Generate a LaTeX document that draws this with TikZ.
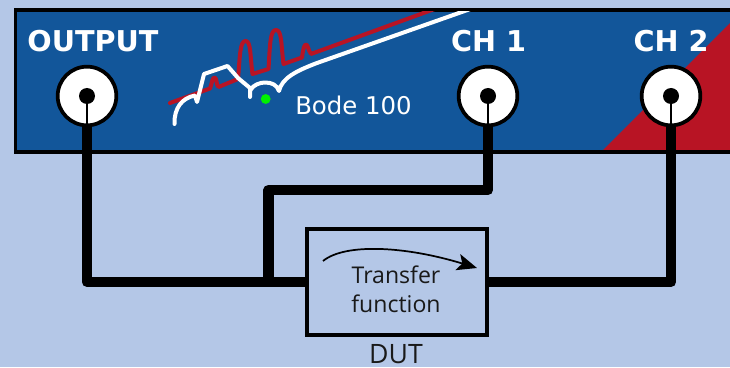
\documentclass[tikz,border=0pt]{standalone}
\usepackage{fontspec}
\setmainfont{DejaVu Sans}
\newfontfamily\opensans{Open Sans}
\usetikzlibrary{arrows.meta}
\definecolor{bgblue}{HTML}{B4C7E7}
\definecolor{panelblue}{HTML}{12569A}
\definecolor{panelred}{HTML}{B81424}
\definecolor{dotgreen}{HTML}{00F000}
\tikzset{
  px/.style={x=0.75pt,y=-0.75pt},
  wire/.style={draw=black,line width=7.8pt,line join=round},
  thinwire/.style={draw=black,line width=1.8pt},
  jack/.style={circle,draw=black,fill=white,line width=2.8pt,minimum size=44pt,inner sep=0pt,outer sep=0pt},
  pin/.style={circle,fill=black,minimum size=12pt,inner sep=0pt},
  chlabel/.style={text=white,font=\bfseries\fontsize{21.5}{25}\selectfont,inner sep=0pt},
  boxtext/.style={font=\opensans\fontsize{17.3}{21.5}\selectfont,align=center,inner sep=0pt,text=black!90},
  trace/.style={line width=3pt,line join=round,line cap=round},
}
\begin{document}
\begin{tikzpicture}[px]
\useasboundingbox (0,0) rectangle (730,367);
\fill[bgblue] (0,0) rectangle (730,367);
% panel
\fill[panelblue] (15,10) rectangle (730,152);
\fill[panelred] (601,152) -- (730,23) -- (730,152) -- cycle;
\draw[black,line width=2.4pt] (730,10) -- (15.5,10) -- (15.5,152) -- (730,152);
% traces
\begin{scope}
\clip (15,11.5) rectangle (730,150);
\draw[trace,panelred] (170,103) -- (210,88.5) .. controls (212,84) and (212,77.5) .. (214.5,77.5)
  .. controls (217,77.5) and (216,85) .. (218.5,87) -- (238,79)
  .. controls (240,55) and (240,41) .. (245.5,41)
  .. controls (251,41) and (250,55) .. (252.5,74) -- (268.5,69)
  .. controls (270,45) and (270,30) .. (276,30)
  .. controls (282,30) and (281,45) .. (283.5,64) -- (302,57.5)
  .. controls (303,50) and (304,44.5) .. (306,44.5)
  .. controls (308,44.5) and (308,50) .. (311,54) -- (440,7);
\draw[trace,white] (174.5,124) .. controls (174,108) and (182,98) .. (195,95.5)
  -- (197,102) -- (204,74) -- (227.5,66) -- (238,78) -- (250,88) -- (250,97);
\draw[trace,white] (250.5,90) .. controls (253,85) and (260,82.5) .. (265,82.5)
  .. controls (272,82.5) and (277,85) .. (279,91)
  .. controls (282,78) and (296,71) .. (317,63) -- (476,7);
\end{scope}
\fill[dotgreen] (265.7,99) circle (3.7pt);
% labels
\node[chlabel] (outlabel) at (93,41) {OUTPUT};
\node[chlabel] (ch1label) at (488.5,41) {CH 1};
\node[chlabel] (ch2label) at (671,41) {CH 2};
\node[text=white,font=\fontsize{18.3}{22}\selectfont,inner sep=0pt] (bode) at (353.5,105.5) {Bode 100};
% jacks
\node[jack] (joutput) at (87,96) {};
\node[jack] (jch1) at (488,96) {};
\node[jack] (jch2) at (671,96) {};
\node[pin] (poutput) at (87,96) {};
\node[pin] (pch1) at (488,96) {};
\node[pin] (pch2) at (671,96) {};
\draw[thinwire] (poutput.center) -- (joutput.south);
\draw[thinwire] (pch1.center) -- (jch1.south);
\draw[thinwire] (pch2.center) -- (jch2.south);
% DUT
\node[draw=black,line width=2.3pt,minimum width=135pt,minimum height=79.5pt,inner sep=0pt,outer sep=0pt,anchor=north west] (dut) at (307,229) {};
\coordinate (dutin) at (dut.west |- 0,282);
\coordinate (dutout) at (dut.east |- 0,282);
\coordinate (junction) at (268.5,282);
\draw[wire] (joutput.south) -- (87,282) -- (dutin);
\draw[wire] (junction) -- (268.5,190) -- (488,190) -- (jch1.south);
\draw[wire] (dutout) -- (671,282) -- (jch2.south);
\node[boxtext] (tf) at (396,289) {Transfer\\function};
\coordinate (arrstart) at (323,261);
\coordinate (arrend) at (477,268);
\draw[black,line width=1.3pt,-{Stealth[length=15pt,width=12.5pt,inset=3.5pt]}] (arrstart) .. controls (345,243) and (405,246) .. (arrend);
\node[font=\opensans\fontsize{20}{24}\selectfont,inner sep=0pt,text=black!90] (dutlabel) at (396,354) {DUT};
\end{tikzpicture}
\end{document}
